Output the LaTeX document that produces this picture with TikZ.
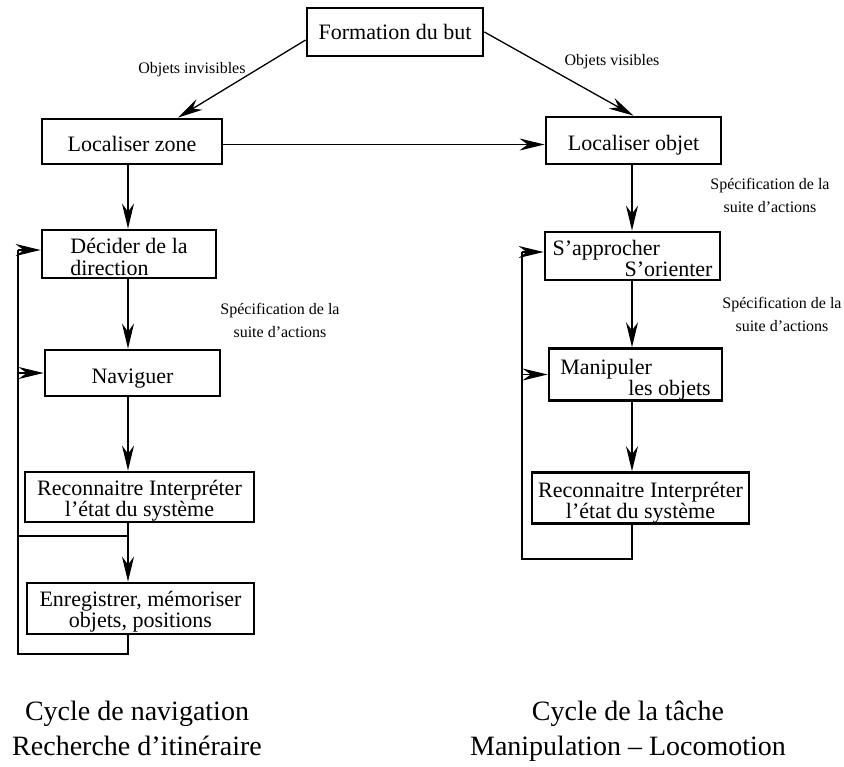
\documentclass[tikz,border=0pt]{standalone}
\usepackage{fontspec}
\setmainfont{Liberation Serif}
\usetikzlibrary{arrows.meta,positioning}

% cale verticale du texte dans les boites
\newcommand{\cale}[1]{\rule{0pt}{#1pt}}

\tikzset{
  boite/.style={draw, line width=2.8pt, inner sep=0pt,
    font=\fontsize{22}{18}\selectfont},
  fleche/.style={line width=1.3pt, -{Stealth[length=25pt,width=12pt,inset=8pt]}},
  trait/.style={line width=1.3pt},
  petit/.style={font=\fontsize{16}{18}\selectfont},
  remarque/.style={font=\fontsize{16}{23}\selectfont, align=center},
  legende/.style={font=\fontsize{28}{35}\selectfont, align=center}
}

\begin{document}
\begin{tikzpicture}[x=1pt,y=-1pt]
    \useasboundingbox (0,0) rectangle (844,767);
    % colonnes des fleches
    \coordinate (colG) at (128,0);
    \coordinate (colD) at (632,0);

    \node[boite, minimum width=176, minimum height=48] (but) at (395,32) {Formation du but};
    \node[boite, minimum width=180, minimum height=45] (zone) at (132,141.5) {\cale{20}Localiser zone};
    \node[boite, minimum width=175, minimum height=47] (objet) at (633.5,140.5) {\cale{24}Localiser objet};

    % cycle de navigation
    \node[boite, minimum width=174, minimum height=48, align=left] (decider) at (129,254) {\cale{22}Décider de la\\[4pt]direction};
    \node[boite, minimum width=175, minimum height=46] (naviguer) at (132.5,373) {\cale{25}Naviguer};
    \node[boite, minimum width=229, minimum height=50, align=center] (reconnG) at (139.5,497) {\cale{23}Reconnaitre Interpréter\\l’état du système};
    \node[boite, minimum width=227, minimum height=51, align=center] (enreg) at (140.5,608.5) {\cale{21}Enregistrer, mémoriser\\objets, positions};

    % cycle de la tache
    \node[boite, minimum width=175, minimum height=48, align=left] (approcher) at (632.5,256) {\cale{20}S’approcher\\\hspace*{72pt}S’orienter};
    \node[boite, minimum width=173, minimum height=47, align=left] (manipuler) at (635.5,374.5) {\cale{26}Manipuler\\\hspace*{68pt}les objets};
    \node[boite, minimum width=217, minimum height=50, align=center] (reconnD) at (640.5,498) {\cale{25}Reconnaitre Interpréter\\l’état du système};

    \draw[fleche] ([yshift=-8pt]but.west) -- ([xshift=46pt]zone.north);
    \draw[fleche] (but.east) -- (objet.north);
    \draw[fleche] ([yshift=-3pt]zone.east) -- ([yshift=-3pt]zone.east -| objet.west);
    \node[petit] (invis) at (192,70) {Objets invisibles};
    \node[petit] (vis) at (612,62) {Objets visibles};

    \draw[fleche] (zone.south -| colG) -- (decider.north -| colG);
    \draw[fleche] (decider.south -| colG) -- (naviguer.north -| colG);
    \draw[fleche] (naviguer.south -| colG) -- (reconnG.north -| colG);
    \draw[fleche] (reconnG.south -| colG) -- (enreg.north -| colG);

    \draw[fleche] (objet.south -| colD) -- (approcher.north -| colD);
    \draw[fleche] (approcher.south -| colD) -- (manipuler.north -| colD);
    \draw[fleche] (manipuler.south -| colD) -- (reconnD.north -| colD);

    % boucles de retour
    \coordinate (retourG) at (18,536);
    \coordinate (basG) at (18,654);
    \draw[trait] (reconnG.south -| colG) |- (retourG) -- ([yshift=4pt]retourG |- decider.west);
    \draw[trait] (enreg.south -| colG) |- (basG) -- (retourG);
    \draw[fleche] ([yshift=4pt]retourG |- decider.west) -- ([yshift=4pt]decider.west);
    \draw[fleche] (retourG |- naviguer.west) -- (naviguer.west);

    \coordinate (retourD) at (522,559);
    \draw[trait] (reconnD.south -| colD) |- (retourD) -- ([yshift=4pt]retourD |- approcher.west);
    \draw[fleche] ([yshift=4pt]retourD |- approcher.west) -- ([yshift=4pt]approcher.west);
    \draw[fleche] (retourD |- manipuler.west) -- (manipuler.west);

    \node[remarque] (specA) at (770,195) {Spécification de la\\suite d’actions};
    \node[remarque] (specB) at (782,314) {Spécification de la\\suite d’actions};
    \node[remarque] (specC) at (280,320) {Spécification de la\\suite d’actions};

    \node[legende] (cycleG) at (137,728) {Cycle de navigation\\Recherche d’itinéraire};
    \node[legende] (cycleD) at (628,731) {Cycle de la tâche\\Manipulation -- Locomotion};
\end{tikzpicture}
\end{document}
